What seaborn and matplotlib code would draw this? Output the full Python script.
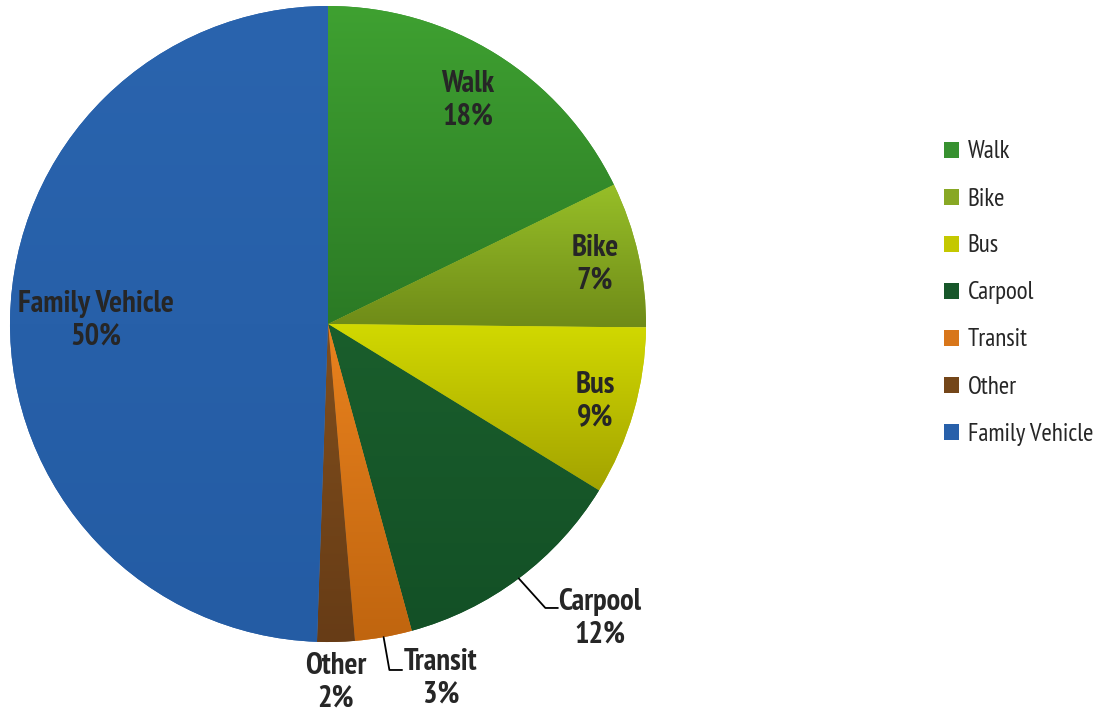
import numpy as np
import matplotlib
matplotlib.use('Agg')
import matplotlib.pyplot as plt
import seaborn as sns
from matplotlib.colors import LinearSegmentedColormap

# travel mode shares
modes = ['Walk', 'Bike', 'Bus', 'Carpool', 'Transit', 'Other', 'Family Vehicle']
shares = [17.8, 7.4, 8.6, 12.0, 2.9, 1.9, 49.5]
pct_text = ['18%', '7%', '9%', '12%', '3%', '2%', '50%']

top_colors = ['#3fa131', '#97bf28', '#d2d900', '#1a5e2c', '#e9821e', '#804e1c', '#2a64ae']
bottom_colors = ['#2b7a25', '#6f8b18', '#a3a300', '#135026', '#c0650f', '#673c16', '#245ca4']
mid_colors = ['#379130', '#88a824', '#c4c800', '#17572a', '#d8761a', '#744619', '#2860aa']

sns.set_style('white')
plt.rcParams['font.family'] = ['PT Sans Narrow', 'DejaVu Sans']
text_col = '#262626'

W, H = 1107, 717
fig = plt.figure(figsize=(W / 100, H / 100), dpi=100)
ax = fig.add_axes([10 / W, 75 / H, 636 / W, 636 / H])

wedges, _ = ax.pie(shares, startangle=90, counterclock=False, colors=mid_colors,
                   radius=1, wedgeprops=dict(linewidth=0))

# vertical gradient inside each slice
for w, c0, c1 in zip(wedges, top_colors, bottom_colors):
    ext = w.get_path().get_extents()
    cmap = LinearSegmentedColormap.from_list('g', [c0, c1])
    grad = np.linspace(0, 1, 256).reshape(-1, 1)
    im = ax.imshow(grad, cmap=cmap, origin='upper', aspect='auto',
                   extent=(ext.x0, ext.x1, ext.y0, ext.y1), zorder=2)
    im.set_clip_path(w)

ax.set_xlim(-1, 1)
ax.set_ylim(-1, 1)
ax.set_aspect('auto')
ax.axis('off')

def mid_angle(w):
    return np.deg2rad((w.theta1 + w.theta2) / 2)

lbl = dict(ha='center', va='center', fontsize=22, fontweight='bold',
           color=text_col, linespacing=1.22)

# labels inside the slices
inside = {0: 0.83, 1: 0.86, 2: 0.875, 6: 0.73}
for i, r in inside.items():
    a = mid_angle(wedges[i])
    ax.text(r * np.cos(a), r * np.sin(a), modes[i] + '\n' + pct_text[i], zorder=5, **lbl)

# labels with leader lines
lead = {3: ((0.723, -0.893), -48, (0.855, -0.925)),
        4: ((0.233, -1.088), -80, (0.355, -1.113))}
for i, (end, angB, txt) in lead.items():
    a = mid_angle(wedges[i])
    edge = (np.cos(a), np.sin(a))
    ax.annotate('', xy=edge, xytext=end, annotation_clip=False,
                arrowprops=dict(arrowstyle='-', color='black', lw=1.3,
                                shrinkA=0, shrinkB=0,
                                connectionstyle=f'angle,angleA=0,angleB={angB},rad=0'))
    ax.text(txt[0], txt[1], modes[i] + '\n' + pct_text[i], **lbl)

ax.text(0.025, -1.127, modes[5] + '\n' + pct_text[5], **lbl)

fig.legend(wedges, modes, loc='center left', bbox_to_anchor=(944 / W, 1 - 293 / H),
           frameon=False, fontsize=18, handlelength=0.6, handleheight=0.6,
           handletextpad=0.35, labelspacing=0.96, borderpad=0, borderaxespad=0,
           labelcolor=text_col)

fig.savefig('out.png', dpi=100, facecolor='white')
